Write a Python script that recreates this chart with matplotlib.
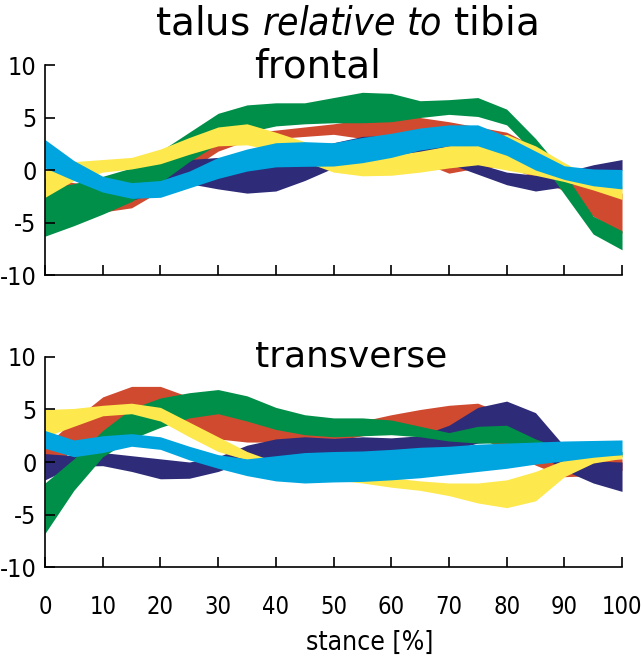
import matplotlib
matplotlib.use("Agg")
import matplotlib.pyplot as plt

plt.rcParams['font.family'] = ['DejaVu Sans']
plt.rcParams['font.stretch'] = 'condensed'
plt.rcParams['axes.unicode_minus'] = False

# stance in %, one value every 5 %
stance = [0, 5, 10, 15, 20, 25, 30, 35, 40, 45, 50, 55, 60, 65, 70, 75, 80, 85, 90, 95, 100]

# frontal plane: upper / lower edge of each band (deg)
red_f_hi = [-0.8, -1.2, -1.6, -0.9, 0.6, 2.0, 3.0, 3.5, 3.8, 4.1, 4.4, 4.8, 5.1, 5.0, 4.6, 4.1, 3.6, 2.2, 0.3, -1.6, -2.2]
red_f_lo = [-2.5, -3.0, -4.0, -3.6, -2.0, 0.0, 1.8, 2.8, 3.0, 3.2, 3.4, 3.0, 2.0, 0.8, -0.3, 0.2, 0.3, -0.7, -2.0, -4.4, -6.0]
navy_f_hi = [-0.8, -1.6, -1.9, -1.3, -0.1, 1.0, 1.2, 0.9, 1.1, 1.8, 2.6, 3.2, 3.3, 3.0, 2.0, 0.6, -0.2, -0.5, -0.2, 0.5, 1.0]
navy_f_lo = [-1.6, -2.8, -3.1, -2.9, -2.0, -1.3, -1.8, -2.2, -2.0, -1.0, 0.2, 0.8, 1.2, 1.4, 0.6, -0.4, -1.4, -2.0, -1.6, -0.7, 0.0]
green_f_hi = [-1.8, -1.3, -0.6, 0.2, 1.8, 3.6, 5.4, 6.2, 6.4, 6.4, 6.9, 7.4, 7.3, 6.6, 6.7, 6.9, 5.8, 3.0, -0.3, -4.4, -5.8]
green_f_lo = [-6.3, -5.3, -4.2, -3.0, -1.2, 0.8, 2.5, 3.6, 4.2, 4.4, 4.5, 4.5, 4.6, 5.0, 5.3, 5.1, 4.3, 1.5, -2.3, -6.1, -7.6]
yellow_f_hi = [-0.1, 0.8, 1.0, 1.2, 2.0, 3.1, 4.1, 4.4, 3.6, 2.7, 1.6, 1.2, 1.4, 1.8, 2.3, 2.8, 3.4, 2.3, 0.7, -0.8, -1.5]
yellow_f_lo = [-2.6, -1.0, -0.2, 0.1, 0.6, 1.5, 2.3, 2.4, 1.8, 0.8, -0.2, -0.55, -0.5, -0.2, 0.2, 0.5, 0.0, -0.5, -1.1, -1.9, -2.8]
cyan_f_hi = [2.9, 0.9, -0.6, -1.2, -1.0, -0.1, 1.2, 2.0, 2.6, 2.7, 2.6, 3.1, 3.5, 4.0, 4.3, 4.3, 3.2, 1.8, 0.4, 0.1, 0.05]
cyan_f_lo = [0.2, -1.0, -2.1, -2.7, -2.6, -1.7, -0.8, -0.1, 0.3, 0.35, 0.38, 0.7, 1.2, 1.9, 2.3, 2.3, 1.4, 0.0, -0.9, -1.5, -1.8]

# transverse plane
red_t_hi = [1.5, 4.0, 6.2, 7.2, 7.2, 6.2, 5.2, 4.3, 3.6, 3.2, 3.3, 3.9, 4.5, 5.0, 5.4, 5.6, 4.5, 2.5, 0.8, 0.3, 0.3]
red_t_lo = [-1.0, 1.2, 2.5, 3.5, 3.8, 3.0, 2.2, 1.9, 1.9, 2.0, 2.0, 2.5, 2.8, 3.0, 3.0, 2.5, 1.0, -0.3, -1.4, -1.3, -0.8]
navy_t_hi = [0.8, 0.6, 0.9, 0.6, 0.3, 0.0, 0.5, 1.6, 2.2, 2.4, 2.25, 2.4, 2.3, 2.5, 3.5, 5.2, 5.8, 4.7, 1.5, 0.1, 0.0]
navy_t_lo = [-1.7, -0.4, -0.35, -0.9, -1.6, -1.55, -0.9, 0.1, 0.4, 0.6, 0.7, 0.7, 0.7, 0.8, 1.1, 1.8, 2.0, 1.0, -0.8, -2.0, -2.8]
green_t_hi = [-2.0, 0.3, 3.0, 5.1, 6.1, 6.6, 6.9, 6.3, 5.2, 4.5, 4.2, 4.2, 4.0, 3.4, 2.8, 3.4, 3.5, 2.2, 1.2, 1.0, 1.0]
green_t_lo = [-6.8, -2.7, 0.5, 2.2, 3.3, 4.2, 4.6, 3.9, 3.1, 2.6, 2.4, 2.5, 2.6, 2.4, 2.0, 1.8, 1.8, 1.2, 0.6, 0.5, 0.5]
yellow_t_hi = [5.0, 5.1, 5.4, 5.6, 5.2, 3.8, 2.4, 1.0, 0.0, -0.5, -1.0, -1.3, -1.5, -1.8, -2.0, -2.0, -1.7, -0.9, 0.2, 0.65, 0.7]
yellow_t_lo = [2.4, 3.4, 4.4, 4.6, 3.9, 2.4, 1.0, 0.2, -0.7, -1.3, -1.7, -2.0, -2.4, -2.7, -3.2, -3.9, -4.35, -3.7, -1.4, -0.1, 0.35]
cyan_t_hi = [3.0, 2.1, 2.5, 2.7, 2.4, 1.5, 0.7, 0.3, 0.6, 0.9, 1.0, 1.05, 1.2, 1.4, 1.5, 1.7, 1.8, 1.9, 2.0, 2.05, 2.1]
cyan_t_lo = [1.3, 0.5, 0.9, 1.5, 1.2, 0.2, -0.6, -1.3, -1.8, -2.0, -1.9, -1.85, -1.7, -1.5, -1.2, -0.9, -0.6, -0.2, 0.1, 0.45, 0.7]

RED = '#d04a2f'
NAVY = '#2e2b78'
GREEN = '#008f48'
YELLOW = '#fde84e'
CYAN = '#00a5e0'


def draw(ax, bands, label, label_x, label_y, label_size, show_x):
    for lo, hi, c in bands:
        ax.fill_between(stance, lo, hi, color=c, linewidth=0)
    ax.set_xlim(0, 100)
    ax.set_ylim(-10, 10)
    ax.spines['top'].set_visible(False)
    ax.spines['right'].set_visible(False)
    for s in ['left', 'bottom']:
        ax.spines[s].set_linewidth(1.2)
    ax.set_xticks(range(0, 101, 10))
    ax.set_yticks([-10, -5, 0, 5, 10])
    ax.tick_params(direction='in', length=7, width=1.2, labelsize=18)
    ax.tick_params(axis='y', pad=6)
    ax.tick_params(axis='x', pad=20, labelsize=17, labelbottom=show_x)
    ax.text(label_x, label_y, label, ha='center', va='baseline',
            fontsize=label_size, family='DejaVu Sans', stretch='normal')


fig = plt.figure(figsize=(6.41, 6.60), dpi=100)
ax1 = fig.add_axes([0.0702, 0.5833, 0.9002, 0.3182])
ax2 = fig.add_axes([0.0702, 0.1409, 0.9002, 0.3182])

draw(ax1, [(red_f_lo, red_f_hi, RED), (navy_f_lo, navy_f_hi, NAVY),
           (green_f_lo, green_f_hi, GREEN), (yellow_f_lo, yellow_f_hi, YELLOW),
           (cyan_f_lo, cyan_f_hi, CYAN)], 'frontal', 47.3, 8.8, 28, False)
draw(ax2, [(red_t_lo, red_t_hi, RED), (navy_t_lo, navy_t_hi, NAVY),
           (green_t_lo, green_t_hi, GREEN), (yellow_t_lo, yellow_t_hi, YELLOW),
           (cyan_t_lo, cyan_t_hi, CYAN)], 'transverse', 53, 9.1, 26, True)

fig.text(0.54, 0.947, r'talus $\it{relative\ to}$ tibia', ha='center', va='baseline',
         fontsize=28, family='DejaVu Sans', stretch='normal')
fig.text(0.577, 0.015, 'stance [%]', ha='center', va='baseline', fontsize=19)

fig.savefig('out.png', dpi=100)
